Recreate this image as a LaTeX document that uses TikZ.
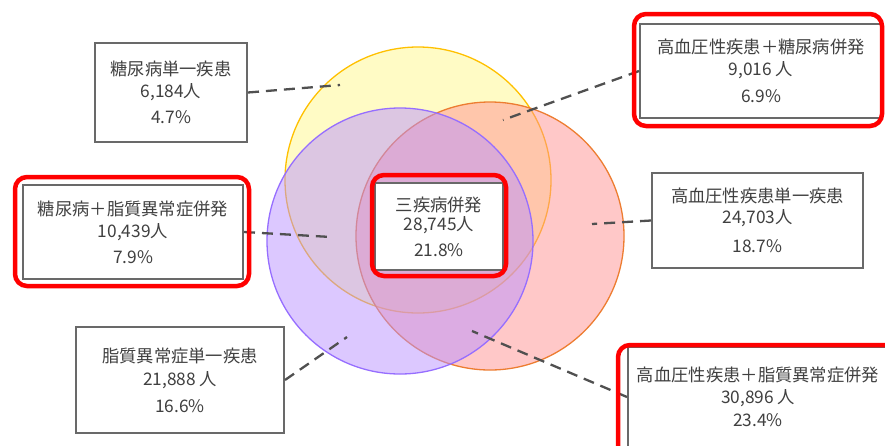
\documentclass[tikz,border=0pt]{standalone}
\usepackage{fontspec}
\setmainfont{Noto Sans CJK JP}
\definecolor{txt}{RGB}{64,64,64}
\definecolor{boxline}{RGB}{105,105,105}
\definecolor{dashc}{RGB}{80,80,80}
\definecolor{yfill}{RGB}{255,247,140}
\definecolor{yline}{RGB}{255,192,0}
\definecolor{pfill}{RGB}{255,145,145}
\definecolor{pline}{RGB}{237,125,49}
\definecolor{vfill}{RGB}{185,145,255}
\definecolor{vline}{RGB}{150,110,255}
\definecolor{hl}{RGB}{255,0,0}
\tikzset{
  infobox/.style={draw=boxline, line width=2pt, fill=white, rectangle, inner sep=0pt,
    text=txt, align=center, font=\fontsize{17.3}{22}\selectfont},
  redframe/.style={draw=hl, line width=4.5pt, rounded corners=12pt},
  leader/.style={draw=dashc, line width=2.3pt, dash pattern=on 11pt off 7pt},
  venn/.style={circle, inner sep=0pt, line width=1.3pt, fill opacity=0.5, draw opacity=1}
}
\begin{document}
\begin{tikzpicture}[x=1pt,y=-1pt]
\useasboundingbox (0,0) rectangle (885,445);
\clip (0,0) rectangle (885,445);
% circles
\node[venn, draw=yline, fill=yfill, minimum size=266pt] (yc) at (418,180) {};
\node[venn, draw=pline, fill=pfill, minimum size=268pt] (pc) at (490,236) {};
\node[venn, draw=vline, fill=vfill, minimum size=266pt] (vc) at (400,241) {};
% leader end points
\coordinate (e1) at (340,85);
\coordinate (e2) at (503,120);
\coordinate (e3) at (331,237);
\coordinate (e5) at (592,224);
\coordinate (e6) at (347,337);
\coordinate (e7) at (472,331);
% boxes
\node[infobox, minimum width=152pt, minimum height=99pt] (b1) at (171,92.5)
  {糖尿病単一疾患\\6,184人\\[4pt]4.7\%};
\node[infobox, minimum width=242pt, minimum height=94pt] (b2) at (761,71)
  {高血圧性疾患＋糖尿病併発\\9,016\ 人\\[5pt]6.9\%};
\node[infobox, minimum width=220pt, minimum height=94pt] (b3) at (133,232)
  {糖尿病＋脂質異常症併発\\10,439人\\[4pt]7.9\%};
\node[infobox, minimum width=128pt, minimum height=87pt] (b4) at (439,226.5)
  {三疾病併発\\[-3pt]28,745人\\[4pt]21.8\%};
\node[infobox, minimum width=211pt, minimum height=95pt] (b5) at (757.5,220.5)
  {高血圧性疾患単一疾患\\[-1pt]24,703人\\[7pt]18.7\%};
\node[infobox, minimum width=208pt, minimum height=106pt] (b6) at (180,380)
  {脂質異常症単一疾患\\[1pt]21,888 人\\[5pt]16.6\%};
\node[infobox, minimum width=260pt, minimum height=100pt] (b7) at (758,397)
  {高血圧性疾患＋脂質異常症併発\\30,896 人\\[1pt]23.4\%};
% leaders
\draw[leader] (b1.east) -- (e1);
\draw[leader] (b2.west) -- (e2);
\draw[leader] (b3.east) -- (e3);
\draw[leader] (b5.west) -- (e5);
\draw[leader] (b6.east) -- (e6);
\draw[leader] (b7.west) -- (e7);
% highlight frames
\draw[redframe] (634,14) rectangle (882,126);
\draw[redframe] (15,177) rectangle (249,286);
\draw[redframe] (372,175) rectangle (506,276);
\draw[redframe] (618,345) rectangle (900,470);
\end{tikzpicture}
\end{document}
